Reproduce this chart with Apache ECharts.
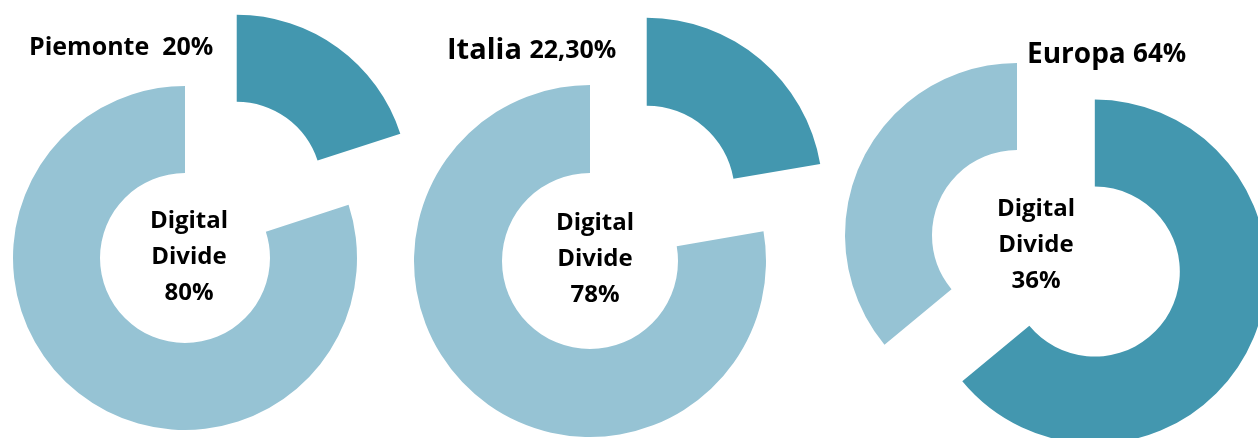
<!DOCTYPE html>
<html>
<head>
<meta charset="utf-8">
<script src="https://cdn.jsdelivr.net/npm/echarts@6/dist/echarts.min.js"></script>
<style>
    html, body { margin: 0; padding: 0; background: #fff; }
    #chart { width: 1258px; height: 438px; }
</style>
</head>
<body>
<div id="chart"></div>
<script>
// data
const regions = ['Piemonte', 'Italia', 'Europa']
const connected = [20, 22.3, 64]        // dark slice (exploded)
const divide = [80, 77.7, 36]           // light slice = digital divide
const headerValues = ['20%', '22,30%', '64%']
const divideLabels = ['80%', '78%', '36%']

const dark = '#4397AF'
const light = '#96C3D4'
const font = '"Open Sans", "Liberation Sans", sans-serif'

// layout per donut
const centers = [[185, 258], [590, 261], [1017, 235]]
const radii = [[85, 172], [88, 176], [85, 172]]
const offsets = [88, 88, 86]

const series = regions.map((name, i) => ({
    type: 'pie',
    name: name,
    center: centers[i],
    radius: radii[i],
    startAngle: 90,
    clockwise: true,
    selectedMode: 'single',
    selectedOffset: offsets[i],
    silent: true,
    animation: false,
    label: { show: false },
    labelLine: { show: false },
    data: [
        { name: 'Connessi', value: connected[i], selected: true, itemStyle: { color: dark } },
        { name: 'Digital Divide', value: divide[i], itemStyle: { color: light } }
    ]
}))

const headers = [
    { x: 29, y: 48, a: 25, b: 25, text: '{a|' + regions[0] + '  }{b|' + headerValues[0] + '}' },
    { x: 447, y: 51, a: 29, b: 25, text: '{a|' + regions[1] + ' }{b|' + headerValues[1] + '}' },
    { x: 1027, y: 55, a: 28, b: 26, text: '{a|' + regions[2] + ' }{b|' + headerValues[2] + '}' }
]

const centerPos = [[189, 257], [595, 259], [1036, 245]]

const graphic = []
headers.forEach(h => {
    graphic.push({
        type: 'text',
        x: h.x,
        y: h.y,
        silent: true,
        style: {
            text: h.text,
            fill: '#000',
            verticalAlign: 'middle',
            rich: {
                a: { fontFamily: font, fontWeight: 'bold', fontSize: h.a, fill: '#000' },
                b: { fontFamily: font, fontWeight: 'bold', fontSize: h.b, fill: '#000' }
            }
        }
    })
})
centerPos.forEach((p, i) => {
    graphic.push({
        type: 'text',
        x: p[0],
        y: p[1],
        silent: true,
        style: {
            text: 'Digital\nDivide\n' + divideLabels[i],
            fill: '#000',
            fontFamily: font,
            fontWeight: 'bold',
            fontSize: 24,
            lineHeight: 36,
            align: 'center',
            verticalAlign: 'middle'
        }
    })
})

const chart = echarts.init(document.getElementById('chart'))
chart.setOption({
    backgroundColor: '#fff',
    animation: false,
    series: series,
    graphic: graphic
})
</script>
</body>
</html>
